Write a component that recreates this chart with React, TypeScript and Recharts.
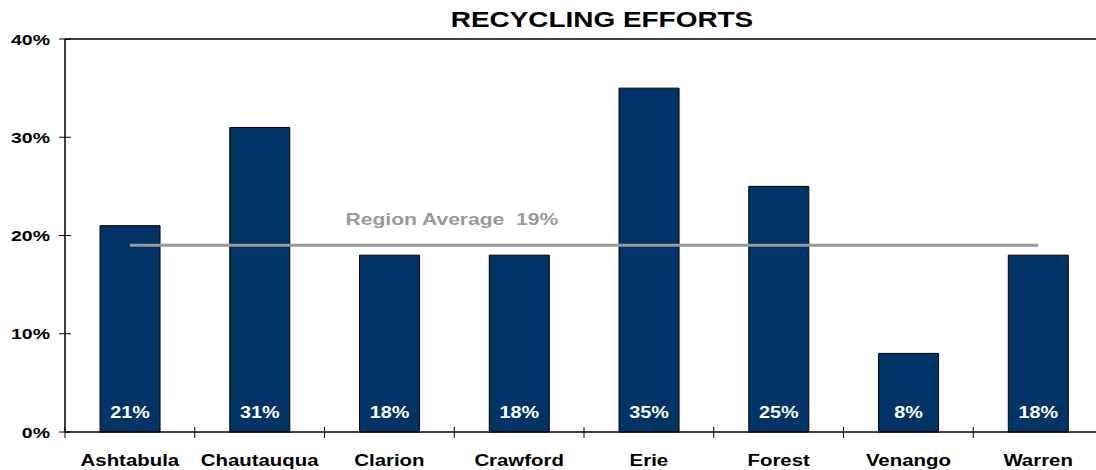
import React from 'react';
import {
  BarChart,
  Bar,
  XAxis,
  YAxis,
  ReferenceLine,
  LabelList,
} from 'recharts';

// 카운티별 재활용 비율
const counties = ['Ashtabula', 'Chautauqua', 'Clarion', 'Crawford', 'Erie', 'Forest', 'Venango', 'Warren'];
const recyclingRates = [21, 31, 18, 18, 35, 25, 8, 18];
const regionAverage = 19;
const yTicks = [0, 10, 20, 30, 40];

const data = counties.map((name, i) => ({ name, rate: recyclingRates[i] }));

const FONT = '"Liberation Sans", Arial, sans-serif';
const CHART_W = 1110;
const CHART_H = 470;
const MARGIN = { top: 39, right: 7, left: 0, bottom: 0 };
const Y_AXIS_W = 65;
const BAND = (CHART_W - MARGIN.left - MARGIN.right - Y_AXIS_W) / counties.length;

// 원본 글꼴이 가로로 넓어서 scaleX로 맞춤
function WideText({
  x,
  y,
  sx,
  size,
  anchor = 'middle',
  fill = '#000',
  children,
}: {
  x: number;
  y: number;
  sx: number;
  size: number;
  anchor?: 'start' | 'middle' | 'end';
  fill?: string;
  children: React.ReactNode;
}) {
  return (
    <text
      transform={`translate(${x},${y}) scale(${sx},1)`}
      textAnchor={anchor}
      fontFamily={FONT}
      fontWeight="bold"
      fontSize={size}
      fill={fill}
      style={{ whiteSpace: 'pre' }}
    >
      {children}
    </text>
  );
}

// x축: 카테고리 경계에 눈금(축을 가로지름), 가운데에 라벨
function CategoryTick({ x, y, payload }: { x?: number; y?: number; payload?: { value: string } }) {
  const left = (x ?? 0) - BAND / 2;
  const axisY = (y ?? 0) - 8;
  return (
    <g>
      <line x1={left} x2={left} y1={axisY - 5} y2={axisY + 6} stroke="#000" strokeWidth={1} />
      <WideText x={x ?? 0} y={axisY + 34} sx={1.2} size={17}>
        {payload?.value}
      </WideText>
    </g>
  );
}

function PercentTick({ x, y, payload }: { x?: number; y?: number; payload?: { value: number } }) {
  const px = x ?? 0;
  const py = y ?? 0;
  return (
    <g>
      <line x1={px + 2} x2={px + 14} y1={py} y2={py} stroke="#000" strokeWidth={1} />
      <WideText x={px - 7} y={py + 5.5} sx={1.3} size={15} anchor="end">
        {payload?.value}%
      </WideText>
    </g>
  );
}

// 막대 아래쪽 안에 흰색 값 표시
function BarValueLabel(props: { x?: number; y?: number; width?: number; height?: number; value?: number }) {
  const { x = 0, y = 0, width = 0, height = 0, value } = props;
  return (
    <WideText x={x + width / 2} y={y + height - 14} sx={1.2} size={16.5} fill="#fff">
      {value}%
    </WideText>
  );
}

function AverageLabel({ viewBox }: { viewBox?: { x: number; y: number; width: number } }) {
  if (!viewBox) return null;
  return (
    <WideText x={viewBox.x + 322} y={viewBox.y - 20} sx={1.24} size={17} fill="#999999">
      {`Region Average  ${regionAverage}%`}
    </WideText>
  );
}

export default function App() {
  return (
    <div style={{ position: 'absolute', left: 0, top: 0, width: 1096, height: 470, overflow: 'hidden', background: '#fff' }}>
      <svg width={1096} height={40} style={{ position: 'absolute', left: 0, top: 0 }}>
        <WideText x={602} y={27} sx={1.27} size={22}>
          RECYCLING EFFORTS
        </WideText>
      </svg>
      <BarChart width={CHART_W} height={CHART_H} data={data} margin={MARGIN} barCategoryGap="27%">
        <XAxis
          dataKey="name"
          height={38}
          axisLine={{ stroke: '#000', strokeWidth: 1.5 }}
          tickLine={false}
          tick={<CategoryTick />}
          interval={0}
        />
        <YAxis
          width={Y_AXIS_W}
          domain={[0, 40]}
          ticks={yTicks}
          axisLine={{ stroke: '#000', strokeWidth: 1.5 }}
          tickLine={false}
          tickSize={6}
          tickMargin={2}
          tick={<PercentTick />}
        />
        <ReferenceLine y={40} stroke="#000" strokeWidth={1.5} />
        <Bar dataKey="rate" fill="#003366" stroke="#000" strokeWidth={1} isAnimationActive={false}>
          <LabelList dataKey="rate" content={<BarValueLabel />} />
        </Bar>
        <ReferenceLine
          segment={[
            { x: counties[0], y: regionAverage },
            { x: counties[counties.length - 1], y: regionAverage },
          ]}
          stroke="#999999"
          strokeWidth={3}
          label={<AverageLabel />}
        />
      </BarChart>
    </div>
  );
}
